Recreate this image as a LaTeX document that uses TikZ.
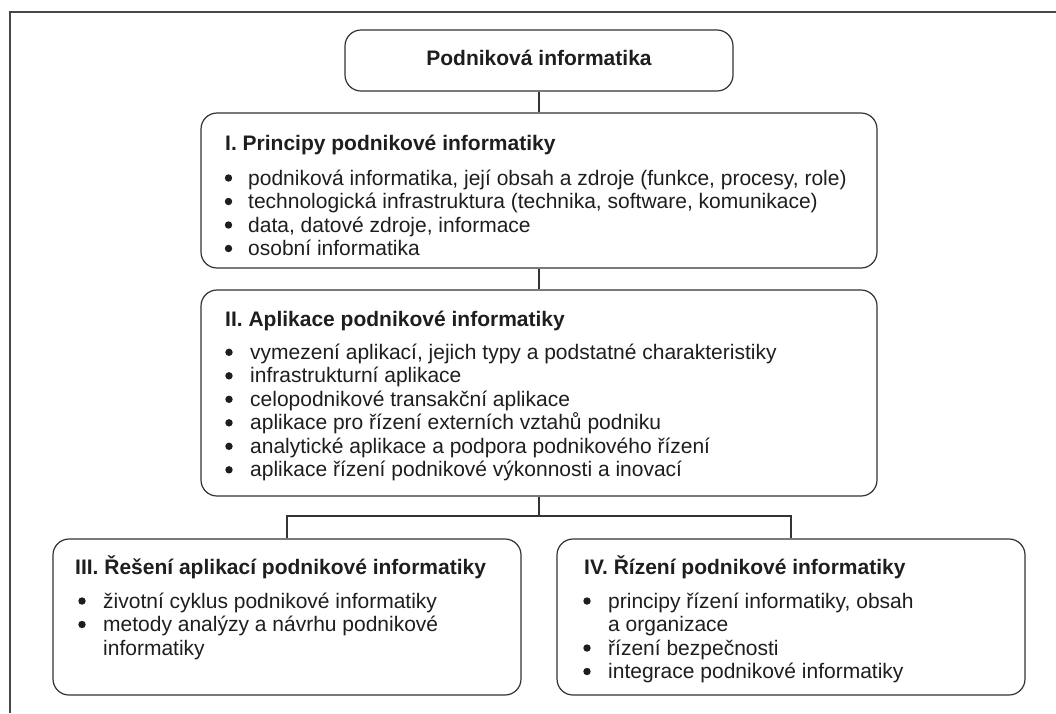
\documentclass[tikz,border=0pt]{standalone}
\usepackage{fontspec}
\setmainfont{Liberation Sans}
\definecolor{ln}{HTML}{333333}
\definecolor{tx}{HTML}{1E1E1E}
\begin{document}
\begin{tikzpicture}[x=1pt,y=-1pt,
  box/.style={draw=ln, line width=1.2pt, rounded corners=16pt, inner sep=0pt},
  conn/.style={draw=ln, line width=1.1pt},
  ttl/.style={anchor=base west, inner sep=0pt, text=tx, font=\fontsize{21}{23.5}\selectfont\bfseries},
  itm/.style={anchor=base west, inner sep=0pt, text=tx, font=\fontsize{21}{23.5}\selectfont},
  bul/.style={circle, fill=tx, inner sep=0pt, minimum size=7.4pt}]
\useasboundingbox (0,0) rectangle (1056,713);
\fill[white] (0,0) rectangle (1056,713);
% outer frame
\draw[draw=ln!90, line width=1.1pt] (10,713) -- (10,12) -- (1056,12);

% boxes
\node[box, minimum width=388pt, minimum height=61pt] (top) at (539,60.5) {};
\node[box, minimum width=676pt, minimum height=155pt] (b1) at (539,190.5) {};
\node[box, minimum width=676pt, minimum height=206pt] (b2) at (539,393) {};
\node[box, minimum width=468pt, minimum height=156pt] (b3) at (287,617) {};
\node[box, minimum width=468pt, minimum height=156pt] (b4) at (791,617) {};

% connectors
\coordinate (j) at (539,516);
\draw[conn] (top.south) -- (b1.north);
\draw[conn] (b1.south) -- (b2.north);
\draw[conn] (b2.south) -- (j);
\draw[conn] (b3.north) -- (b3.north |- j) -- (b4.north |- j) -- (b4.north);

% top title
\node[ttl, anchor=base] (t0) at (539,65) {Podniková informatika};

% box I
\node[ttl] (t1) at (225,150) {I. Principy podnikové informatiky};
\node[bul] (p11) at (228.5,178) {};
\node[itm] (i11) at (248,185) {podniková informatika, její obsah a zdroje (funkce, procesy, role)};
\node[bul] (p12) at (228.5,201.5) {};
\node[itm] (i12) at (248,208.5) {technologická infrastruktura (technika, software, komunikace)};
\node[bul] (p13) at (228.5,225) {};
\node[itm] (i13) at (248,232) {data, datové zdroje, informace};
\node[bul] (p14) at (228.5,248.5) {};
\node[itm] (i14) at (248,255.5) {osobní informatika};

% box II
\node[ttl] (t2) at (225,326) {II. Aplikace podnikové informatiky};
\node[bul] (p21) at (229,352.3) {};
\node[itm] (i21) at (250,359.3) {vymezení aplikací, jejich typy a podstatné charakteristiky};
\node[bul] (p22) at (229,375.8) {};
\node[itm] (i22) at (250,382.8) {infrastrukturní aplikace};
\node[bul] (p23) at (229,399.3) {};
\node[itm] (i23) at (250,406.3) {celopodnikové transakční aplikace};
\node[bul] (p24) at (229,422.8) {};
\node[itm] (i24) at (250,429.8) {aplikace pro řízení externích vztahů podniku};
\node[bul] (p25) at (229,446.3) {};
\node[itm] (i25) at (250,453.3) {analytické aplikace a podpora podnikového řízení};
\node[bul] (p26) at (229,469.8) {};
\node[itm] (i26) at (250,476.8) {aplikace řízení podnikové výkonnosti a inovací};

% box III
\node[ttl] (t3) at (75,574) {III. Řešení aplikací podnikové informatiky};
\node[bul] (p31) at (82,601) {};
\node[itm] (i31) at (103,608) {životní cyklus podnikové informatiky};
\node[bul] (p32) at (82,624.5) {};
\node[itm] (i32) at (103,631.5) {metody analýzy a návrhu podnikové};
\node[itm] (i33) at (103,655) {informatiky};

% box IV
\node[ttl] (t4) at (584,574) {IV. Řízení podnikové informatiky};
\node[bul] (p41) at (587,601) {};
\node[itm] (i41) at (608,608) {principy řízení informatiky, obsah};
\node[itm] (i42) at (608,631.5) {a organizace};
\node[bul] (p43) at (587,648) {};
\node[itm] (i43) at (608,655) {řízení bezpečnosti};
\node[bul] (p44) at (587,671.5) {};
\node[itm] (i44) at (608,678.5) {integrace podnikové informatiky};
\end{tikzpicture}
\end{document}
